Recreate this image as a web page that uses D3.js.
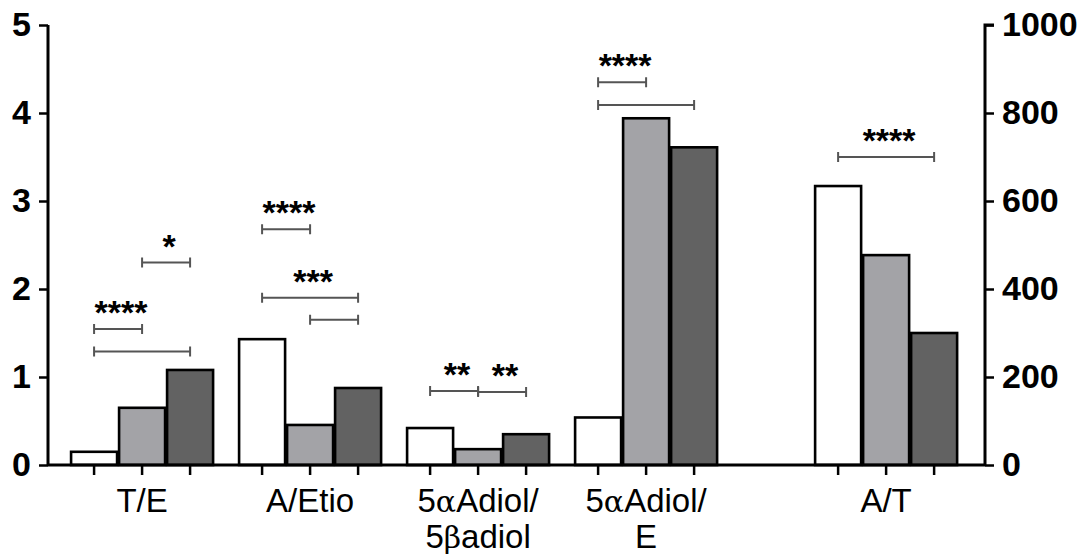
<!DOCTYPE html>
<html>
<head>
<meta charset="utf-8">
<script src="https://cdn.jsdelivr.net/npm/d3@7"></script>
<style>
  body { margin: 0; background: #fff; }
</style>
</head>
<body>
<div id="chart"></div>
<script>
/* data */
const categories = [["T/E"], ["A/Etio"], ["5αAdiol/", "5βadiol"], ["5αAdiol/", "E"], ["A/T"]];
const axisSide = ["left", "left", "left", "left", "right"];   // A/T uses the right axis
const seriesWhite = [0.15, 1.43, 0.42, 0.54, 634];
const seriesGray  = [0.65, 0.455, 0.18, 3.94, 477];
const seriesDark  = [1.08, 0.875, 0.35, 3.61, 300];
const leftTicks  = [0, 1, 2, 3, 4, 5];
const rightTicks = [0, 200, 400, 600, 800, 1000];
// significance brackets: group, from bar, to bar, height (in that group's axis units), stars
const brackets = [
  [0, 0, 1, 1.545, "****"], [0, 0, 2, 1.29, ""], [0, 1, 2, 2.30, "*"],
  [1, 0, 1, 2.68, "****"], [1, 0, 2, 1.90, "***"], [1, 1, 2, 1.65, ""],
  [2, 0, 1, 0.84, "**"], [2, 1, 2, 0.83, "**"],
  [3, 0, 1, 4.35, "****"], [3, 0, 2, 4.09, ""],
  [4, 0, 2, 700, "****"]
];

const W = 1085, H = 559;
const svg = d3.select("#chart").append("svg")
  .attr("width", W).attr("height", H);

const palette = ["#ffffff", "#a3a3a7", "#626262"];
const series = [seriesWhite, seriesGray, seriesDark];

/* x in "bar units": 3 bars per group, half-bar gap, wider gap before A/T */
const groupGap = [0, 0.5, 0.5, 0.5, 2];
var groupStart = [], u = 0;
categories.forEach(function(c, i) { u += groupGap[i]; groupStart.push(u); u += 3; });
const x = d3.scaleLinear().domain([-0.96, 18.56]).range([48, 985]);
const yL = d3.scaleLinear().domain([0, 5]).range([465, 25]);
const yR = d3.scaleLinear().domain([0, 1000]).range([465, 25]);
function yFor(g) { return axisSide[g] == "right" ? yR : yL; }
function cx(g, b) { return x(groupStart[g] + b); }
const bw = x(1) - x(0) - 2;

/* bars */
var bars = [];
categories.forEach(function(c, g) {
  series.forEach(function(s, b) { bars.push({g: g, b: b, v: s[g]}); });
});
svg.append("g").selectAll("rect").data(bars).enter().append("rect")
  .attr("x", function(d) { return cx(d.g, d.b) - bw / 2; })
  .attr("y", function(d) { return yFor(d.g)(d.v); })
  .attr("width", bw)
  .attr("height", function(d) { return 465 - yFor(d.g)(d.v); })
  .style("fill", function(d) { return palette[d.b]; })
  .style("stroke", "#000").style("stroke-width", 2.6);

/* axes */
var axL = svg.append("g").attr("transform", "translate(48,0)")
  .call(d3.axisLeft(yL).tickValues(leftTicks).tickSize(9).tickPadding(8).tickFormat(d3.format("d")));
var axR = svg.append("g").attr("transform", "translate(985,0)")
  .call(d3.axisRight(yR).tickValues(rightTicks).tickSize(9).tickPadding(8).tickFormat(d3.format("d")));
[axL, axR].forEach(function(a) {
  a.select(".domain").attr("d", a === axL ? "M0,465V25" : "M9,25H0V465").style("stroke-width", 3);
  a.selectAll(".tick line").style("stroke-width", 2.5);
  a.selectAll("text").attr("font-family", "Liberation Sans, Arial, sans-serif")
    .attr("font-weight", "bold").attr("font-size", "34px").attr("fill", "#000");
});

// baseline and x ticks
svg.append("line").attr("x1", 48).attr("x2", 985).attr("y1", 465).attr("y2", 465)
  .style("stroke", "#000").style("stroke-width", 3);
svg.append("g").selectAll("line").data(bars).enter().append("line")
  .attr("x1", function(d) { return cx(d.g, d.b); })
  .attr("x2", function(d) { return cx(d.g, d.b); })
  .attr("y1", 465).attr("y2", 475)
  .style("stroke", "#000").style("stroke-width", 2.5);

// category labels
var lab = svg.append("g").selectAll("text").data(categories).enter().append("text")
  .attr("x", function(d, g) { return cx(g, 1); })
  .attr("y", 512)
  .attr("text-anchor", "middle")
  .attr("font-family", "Liberation Sans, Arial, sans-serif")
  .attr("font-size", "33px").attr("fill", "#000");
lab.each(function(lines) {
  var t = d3.select(this), x0 = +t.attr("x");
  lines.forEach(function(line, i) {
    var ts = t.append("tspan").attr("x", x0).attr("dy", i == 0 ? 0 : 36);
    // greek letters a little smaller, like the symbol font
    line.split(/([αβ])/).forEach(function(part) {
      if (!part) return;
      var p = ts.append("tspan").text(part);
      if (part == "α" || part == "β") p.attr("font-size", "30px").attr("font-family", "DejaVu Serif, serif");
    });
  });
});

/* significance brackets */
var br = svg.append("g").selectAll("g").data(brackets).enter().append("g");
br.append("path")
  .attr("d", function(d) {
    var x1 = cx(d[0], d[1]), x2 = cx(d[0], d[2]), y = yFor(d[0])(d[3]);
    return "M" + x1 + "," + (y - 5) + "V" + (y + 5) + "M" + x1 + "," + y + "H" + x2 +
      "M" + x2 + "," + (y - 5) + "V" + (y + 5);
  })
  .style("fill", "none").style("stroke", "#555").style("stroke-width", 2);
br.append("text")
  .attr("x", function(d) { return (cx(d[0], d[1]) + cx(d[0], d[2])) / 2 + 3; })
  .attr("y", function(d) { return yFor(d[0])(d[3]) - 5; })
  .attr("text-anchor", "middle")
  .attr("font-family", "Liberation Sans, Arial, sans-serif")
  .attr("font-weight", "bold")
  .attr("font-size", "34px").attr("fill", "#000")
  .text(function(d) { return d[4]; });
</script>
</body>
</html>
